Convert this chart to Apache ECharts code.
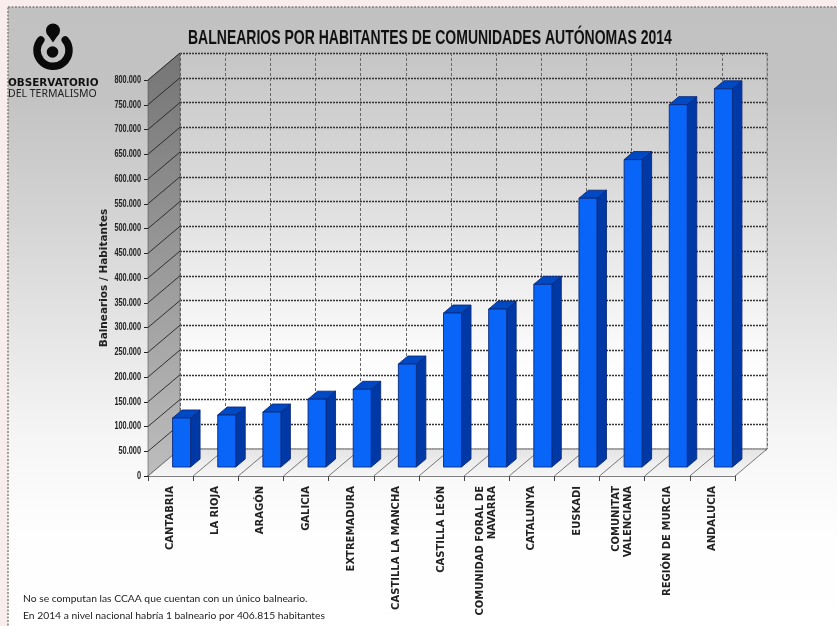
<!DOCTYPE html>
<html>
<head>
<meta charset="utf-8">
<style>html,body{margin:0;padding:0;background:#f8eced;}#c{width:837px;height:626px;filter:blur(0.4px);}</style>
<script src="https://cdn.jsdelivr.net/npm/echarts@6/dist/echarts.min.js"></script>
</head>
<body>
<div id="c"></div>
<script>
const categories = ['CANTABRIA','LA RIOJA','ARAGÓN','GALICIA','EXTREMADURA','CASTILLA LA MANCHA','CASTILLA LEÓN','COMUNIDAD FORAL DE\nNAVARRA','CATALUNYA','EUSKADI','COMUNITAT\nVALENCIANA','REGIÓN DE MURCIA','ANDALUCIA'];
const values = [99000,105000,111000,137000,157000,208000,311000,319000,369000,543000,621000,732000,764000];
const yMax = 800000;
const yStep = 50000;
const titleText = 'BALNEARIOS POR HABITANTES DE COMUNIDADES AUTÓNOMAS 2014';
const yName = 'Balnearios / Habitantes';
const notes = ['No se computan las CCAA que cuentan con un único balneario.','En 2014 a nivel nacional habría 1 balneario por 406.815 habitantes'];

const G = {left:148, top:80, width:587, height:396};
const DX = 32, DY = -27;
const BAR = {off:11, half:9, lift:9, dx:9.5, dy:-8};
const fmt = v => String(v).replace(/\B(?=(\d{3})+(?!\d))/g,'.');
const linear = (stops) => ({type:'linear',x:0,y:0,x2:0,y2:1,colorStops:stops.map(s=>({offset:s[0],color:s[1]}))});

const chart = echarts.init(document.getElementById('c'),null,{renderer:'canvas'});

function renderFrame(params, api){
  const cs = params.coordSys;
  const l=cs.x, r=cs.x+cs.width, t=cs.y, b=cs.y+cs.height;
  const kids = [];
  kids.push({type:'polygon',shape:{points:[[l,t],[l+DX,t+DY],[l+DX,b+DY],[l,b]]},
    style:{fill:linear([[0,'#757575'],[1,'#bdbdbd']]),stroke:'#555',lineWidth:0.6}});
  kids.push({type:'polygon',shape:{points:[[l,b],[l+DX,b+DY],[r+DX,b+DY],[r,b]]},
    style:{fill:linear([[0,'#e4e4e4'],[1,'#f6f6f6']])}});
  kids.push({type:'line',shape:{x1:l+DX,y1:b+DY,x2:r+DX,y2:b+DY},style:{stroke:'#666',lineWidth:1}});
  kids.push({type:'line',shape:{x1:r,y1:b,x2:r+DX,y2:b+DY},style:{stroke:'#555',lineWidth:0.8}});
  kids.push({type:'line',shape:{x1:r+DX,y1:t+DY,x2:r+DX,y2:b+DY},style:{stroke:'#8a8a8a',lineWidth:0.8}});
  for(let v=0; v<=yMax; v+=yStep){
    const y = api.coord([0,v])[1];
    if(v>0) kids.push({type:'line',shape:{x1:l,y1:y,x2:l+DX,y2:y+DY},style:{stroke:'#222',lineWidth:0.9}});
    kids.push({type:'text',x:l-7,y:y,scaleX:0.7,style:{text:fmt(v),align:'right',verticalAlign:'middle',fill:'#222',font:'bold 10.5px "Liberation Sans"'}});
  }
  const band = api.size([1,0])[0];
  for(let i=0;i<categories.length;i++){
    const x = l+band*i;
    kids.push({type:'line',shape:{x1:x,y1:b,x2:x+DX,y2:b+DY},style:{stroke:'#555',lineWidth:0.8}});
  }
  return {type:'group',silent:true,children:kids};
}
function renderBar(params, api){
  const i = api.value(0), v = api.value(1);
  const p0 = api.coord([i,0]), p1 = api.coord([i,v]);
  const xL = p0[0]+BAR.off-BAR.half, xR = p0[0]+BAR.off+BAR.half;
  const yB = p0[1]-BAR.lift, yT = p1[1]-BAR.lift;
  const s = {stroke:'#0b2a7a',lineWidth:0.9,lineJoin:'round'};
  return {type:'group',children:[
    {type:'polygon',shape:{points:[[xR,yB],[xR+BAR.dx,yB+BAR.dy],[xR+BAR.dx,yT+BAR.dy],[xR,yT]]},style:Object.assign({fill:'#0038a6'},s)},
    {type:'polygon',shape:{points:[[xL,yT],[xR,yT],[xR+BAR.dx,yT+BAR.dy],[xL+BAR.dx,yT+BAR.dy]]},style:Object.assign({fill:'#0049c4'},s)},
    {type:'rect',shape:{x:xL,y:yT,width:xR-xL,height:yB-yT},style:Object.assign({fill:'#0865f8'},s)}
  ]};
}

const option = {
  animation:false,
  backgroundColor:'transparent',
  graphic:[
    {type:'rect',z:-10,silent:true,shape:{x:8,y:7,width:840,height:640},
     style:{fill:linear([[0,'#c1c1c1'],[0.145,'#c3c3c3'],[0.333,'#d4d4d4'],[0.536,'#e8e8e8'],[0.677,'#f6f6f6'],[0.83,'#fefefe'],[1,'#ffffff']]),stroke:'#808080',lineWidth:1.5,lineDash:[2,1.5]}},
    {type:'arc',z:5,silent:true,shape:{cx:53,cy:50.3,r:16,startAngle:-0.7,endAngle:-2.44,clockwise:true},style:{fill:null,stroke:'#0a0a0a',lineWidth:7.5,lineCap:'round'}},
    {type:'circle',z:5,silent:true,shape:{cx:53,cy:30.5,r:7},style:{fill:'#0a0a0a'}},
    {type:'polygon',z:5,silent:true,shape:{points:[[46.5,33],[59.5,33],[53,42.5]]},style:{fill:'#0a0a0a'}},
    {type:'circle',z:5,silent:true,shape:{cx:52.5,cy:52,r:5.8},style:{fill:'#0a0a0a'}},
    {type:'text',z:5,silent:true,x:8,y:78,style:{text:'OBSERVATORIO',font:'bold 10.4px "DejaVu Sans"',fill:'#111'}},
    {type:'text',z:5,silent:true,x:8,y:89,style:{text:'DEL TERMALISMO',font:'10.5px "Noto Sans"',fill:'#222'}},
    {type:'text',z:5,silent:true,x:188,y:28,scaleX:0.667,style:{text:titleText,font:'bold 21px "Liberation Sans"',fill:'#111'}},
    {type:'text',z:5,silent:true,x:23,y:594,style:{text:notes[0],font:'10.3px Lato',fill:'#222'}},
    {type:'text',z:5,silent:true,x:23,y:611,style:{text:notes[1],font:'10.3px Lato',fill:'#222'}}
  ],
  grid:[
    {left:G.left,top:G.top,width:G.width,height:G.height,containLabel:false},
    {left:G.left+DX,top:G.top+DY,width:G.width,height:G.height,show:true,borderWidth:0,
     backgroundColor:linear([[0,'#c6c6c6'],[0.3,'#d8d8d8'],[0.6,'#f0f0f0'],[0.82,'#ffffff'],[1,'#ffffff']])}
  ],
  xAxis:[
    {type:'category',gridIndex:0,data:categories,boundaryGap:true,
     axisLine:{show:true,lineStyle:{color:'#555',width:1.6}},
     axisTick:{show:true,length:5,interval:0,lineStyle:{color:'#444'}},
     axisLabel:{interval:0,rotate:90,margin:10,color:'#222',fontFamily:'DejaVu Sans',fontWeight:'bold',fontSize:10,lineHeight:12,padding:[4,0,0,0]},
     splitLine:{show:false}},
    {type:'category',gridIndex:1,data:categories,boundaryGap:true,
     axisLine:{show:false},axisTick:{show:false},axisLabel:{show:false},
     splitLine:{show:true,interval:0,lineStyle:{color:'#666',type:[3,2],width:1}}}
  ],
  yAxis:[
    {type:'value',gridIndex:0,min:0,max:yMax,interval:yStep,
     name:yName,nameLocation:'middle',nameGap:38,nameRotate:90,
     nameTextStyle:{fontFamily:'DejaVu Sans',fontWeight:'bold',fontSize:10.5,color:'#222'},
     axisLine:{show:false},
     axisTick:{show:true,length:4,lineStyle:{color:'#222'}},
     axisLabel:{show:false},
     splitLine:{show:false}},
    {type:'value',gridIndex:1,min:0,max:yMax,interval:yStep,
     axisLine:{show:false},axisTick:{show:false},axisLabel:{show:false},
     splitLine:{show:true,lineStyle:{color:'#333',type:[2,1],width:1.3}}}
  ],
  series:[
    {type:'custom',name:'frame',xAxisIndex:0,yAxisIndex:0,silent:true,clip:false,z:1,data:[[0,0]],renderItem:renderFrame},
    {type:'custom',name:'Balnearios / Habitantes',xAxisIndex:0,yAxisIndex:0,clip:false,z:3,
     data:values.map((v,i)=>[i,v]),renderItem:renderBar,encode:{x:0,y:1}}
  ]
};
chart.setOption(option);
</script>
</body>
</html>
